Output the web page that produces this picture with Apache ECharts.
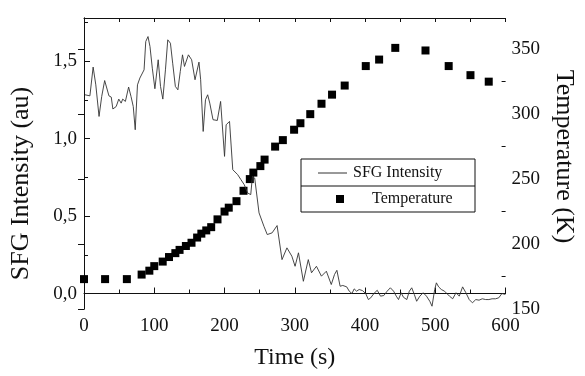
<!DOCTYPE html>
<html>
<head>
<meta charset="utf-8">
<script src="https://cdn.jsdelivr.net/npm/echarts@6/dist/echarts.min.js"></script>
<style>
  html, body { margin: 0; padding: 0; background: #fff; }
  #chart { width: 585px; height: 376px; }
</style>
</head>
<body>
<div id="chart"></div>
<script>
// SFG intensity trace (time in s, intensity in au)
const sfgTime = [1.4, 8.4, 13, 16.8, 21.4, 25.2, 29.4, 31.8, 35.5, 38.8, 41.1, 45.8, 49.5, 52.9, 55.1, 58.9,
  63.5, 66.9, 70.1, 72.9, 76.1, 79.5, 85.5, 87.9, 91.1, 93.9, 97.2, 100.9, 105.6, 108.9, 112.2, 115.9,
  119.2, 123, 126.2, 130, 133.6, 137, 140.2, 143, 145.8, 148.6, 153.2, 158, 163.6, 166, 169.6, 172.9,
  176, 179, 183.6, 189.7, 194.4, 200, 202.3, 207.1, 209.3, 211.7, 218.7, 223.3, 228.1, 232.7, 237.3,
  239.7, 242.9, 249.1, 256.1, 260.8, 267.7, 274.8, 281.8, 288.8, 295.8, 300.4, 305.2, 312.2, 319.2,
  323.8, 330.8, 337.9, 344.9, 351.9, 356.5, 359.9, 364.5, 368.3, 373.9, 377.5, 381.3, 384.5, 387.9,
  391.6, 396.3, 400.9, 404.7, 408, 412.6, 417.3, 422, 426.6, 431.4, 436, 440.6, 444.4, 447.6, 451.4,
  454.6, 459.4, 463, 466.4, 470.1, 473.4, 478, 482.7, 487.4, 492.1, 495.3, 499.1, 501.5, 504.7, 508.5,
  513.1, 520.1, 524.7, 529.5, 534.1, 538.8, 541.1, 543.5, 548.2, 552.8, 557.6, 562.2, 566.8, 571.6,
  576.2, 580.8, 585.6, 590.2, 594.8, 599.6];
const sfgValue = [1.284, 1.277, 1.463, 1.348, 1.144, 1.273, 1.376, 1.37, 1.277, 1.269, 1.192, 1.208, 1.256, 1.23, 1.256, 1.241,
  1.334, 1.273, 1.208, 1.058, 1.348, 1.392, 1.445, 1.628, 1.66, 1.596, 1.456, 1.323, 1.51, 1.338, 1.256, 1.445,
  1.639, 1.617, 1.488, 1.338, 1.316, 1.434, 1.542, 1.467, 1.467, 1.542, 1.51, 1.381, 1.495, 1.381, 1.047, 1.252,
  1.284, 1.23, 1.123, 1.118, 1.241, 0.886, 1.09, 1.112, 1.101, 0.8, 0.768, 0.736, 0.703, 0.65, 0.639,
  0.757, 0.746, 0.521, 0.434, 0.381, 0.392, 0.439, 0.219, 0.295, 0.241, 0.176, 0.263, 0.079, 0.219,
  0.134, 0.176, 0.112, 0.144, 0.058, 0.123, 0.15, 0.047, 0.052, 0.043, 0.015, 0, 0.03, 0.015,
  0.026, 0.019, 0, -0.039, -0.028, 0, 0.021, -0.017, -0.013, 0.015, 0.037, 0.015, -0.017, -0.039, 0.005,
  -0.024, -0.039, 0.015, 0.037, -0.006, -0.05, -0.017, 0.005, -0.017, -0.05, -0.082, 0.026, 0.069, 0.043, 0.026,
  0.015, -0.017, -0.034, 0.005, -0.017, 0.043, 0.052, 0.005, -0.039, -0.06, -0.039, -0.043, -0.034, -0.039,
  -0.039, -0.034, -0.034, -0.028, 0, -0.006];

// temperature points (time in s, temperature in K)
const tempTime = [0, 30, 61, 82, 93, 100, 112, 121, 130, 136, 145, 153, 161, 167, 174, 181, 190, 200, 206, 217,
  227, 236, 241, 251, 257, 272, 283, 299, 308, 322, 338, 353, 371, 401, 420, 443, 486, 519, 550, 576];
const tempValue = [173, 173, 173, 176.5, 179.5, 183, 186.5, 190, 193, 195.5, 198.5, 201, 205, 208, 210.5, 213, 219, 225, 228, 233,
  241, 250, 255, 260, 265, 275, 280, 288, 293, 300, 308, 315, 322, 337, 342, 351, 349, 337, 330, 325];

// tick values
const sfgTicks = [0, 0.5, 1, 1.5];
const sfgMinorTicks = [-0.25, 0.25, 0.75, 1.25, 1.75];
const tempTicks = [150, 200, 250, 300, 350];
const tempMinorTicks = [175, 225, 275, 325];
const timeTicks = [0, 100, 200, 300, 400, 500, 600];
const timeMinorTicks = [50, 150, 250, 350, 450, 550];

const chart = echarts.init(document.getElementById("chart"));
const font = "Liberation Serif";
const ink = "#111";

const sfgData = sfgTime.map((t, i) => [t, sfgValue[i]]);
const tempData = tempTime.map((t, i) => [t, tempValue[i]]);

const lineStyle = { color: ink, width: 1 };

const option = {
  animation: false,
  grid: { left: 84, right: 73, top: 18, bottom: 67 },
  xAxis: [
    {
      type: "value", min: 0, max: 600, position: "bottom",
      name: "Time (s)", nameLocation: "middle", nameGap: 37,
      nameTextStyle: { fontFamily: font, fontSize: 24, color: ink },
      axisLine: { lineStyle: lineStyle },
      axisTick: { inside: true, length: 6, lineStyle: lineStyle, customValues: timeTicks },
      axisLabel: { customValues: timeTicks, fontFamily: font, fontSize: 19, color: ink, margin: 8 },
      splitLine: { show: false },
    },
    {
      // minor ticks bottom
      type: "value", min: 0, max: 600, position: "bottom",
      axisLine: { show: false },
      axisTick: { inside: true, length: 4, lineStyle: lineStyle, customValues: timeMinorTicks },
      axisLabel: { show: false },
      splitLine: { show: false },
    },
    {
      // top border
      type: "value", min: 0, max: 600, position: "top",
      axisLine: { lineStyle: lineStyle },
      axisTick: { inside: true, length: 4, lineStyle: lineStyle, customValues: timeMinorTicks.concat(timeTicks) },
      axisLabel: { show: false },
      splitLine: { show: false },
    },
  ],
  yAxis: [
    {
      type: "value", min: -0.1, max: 1.78, position: "left",
      name: "SFG Intensity (au)", nameLocation: "middle", nameGap: 50,
      nameTextStyle: { fontFamily: font, fontSize: 26, color: ink, padding: [0, 40, 0, 0] },
      axisLine: { show: true, lineStyle: lineStyle },
      axisTick: { inside: true, length: 6, lineStyle: lineStyle, customValues: sfgTicks },
      axisLabel: {
        customValues: sfgTicks, fontFamily: font, fontSize: 19, color: ink, margin: 7,
        formatter: (v) => v.toFixed(1).replace(".", ","),
      },
      splitLine: { show: false },
    },
    {
      type: "value", min: 150, max: 374, position: "right",
      name: "Temperature (K)", nameLocation: "middle", nameGap: 41, nameRotate: -90,
      nameTextStyle: { fontFamily: font, fontSize: 26, color: ink, padding: [0, 14, 0, 0] },
      axisLine: { show: true, lineStyle: lineStyle },
      axisTick: { inside: true, length: 6, lineStyle: lineStyle, customValues: tempTicks },
      axisLabel: { customValues: tempTicks, fontFamily: font, fontSize: 19, color: ink, margin: 6 },
      splitLine: { show: false },
    },
    {
      type: "value", min: -0.1, max: 1.78, position: "left",
      axisLine: { show: false },
      axisTick: { inside: true, length: 4, lineStyle: lineStyle, customValues: sfgMinorTicks },
      axisLabel: { show: false },
      splitLine: { show: false },
    },
    {
      type: "value", min: 150, max: 374, position: "right",
      axisLine: { show: false },
      axisTick: { inside: true, length: 4, lineStyle: lineStyle, customValues: tempMinorTicks },
      axisLabel: { show: false },
      splitLine: { show: false },
    },
  ],
  series: [
    {
      name: "SFG Intensity",
      type: "line",
      xAxisIndex: 0,
      yAxisIndex: 0,
      data: sfgData,
      showSymbol: false,
      lineStyle: { color: "#333", width: 0.9 },
    },
    {
      name: "Temperature",
      type: "scatter",
      xAxisIndex: 0,
      yAxisIndex: 1,
      data: tempData,
      symbol: "rect",
      symbolSize: 8,
      itemStyle: { color: "#000", opacity: 1 },
    },
  ],
  graphic: [
    { type: "rect", shape: { x: 301, y: 159, width: 174, height: 53 }, style: { fill: "#fff", stroke: ink, lineWidth: 1 } },
    { type: "line", shape: { x1: 301, y1: 186, x2: 475, y2: 186 }, style: { stroke: ink, lineWidth: 1 } },
    { type: "line", shape: { x1: 318, y1: 173, x2: 347, y2: 173 }, style: { stroke: "#333", lineWidth: 1 } },
    { type: "rect", shape: { x: 336, y: 195, width: 8, height: 8 }, style: { fill: "#000" } },
    { type: "text", x: 353, y: 173, style: { text: "SFG Intensity", font: "16px " + font, fill: ink, verticalAlign: "middle" } },
    { type: "text", x: 372, y: 199, style: { text: "Temperature", font: "16px " + font, fill: ink, verticalAlign: "middle" } },
  ],
};

chart.setOption(option);
</script>
</body>
</html>
